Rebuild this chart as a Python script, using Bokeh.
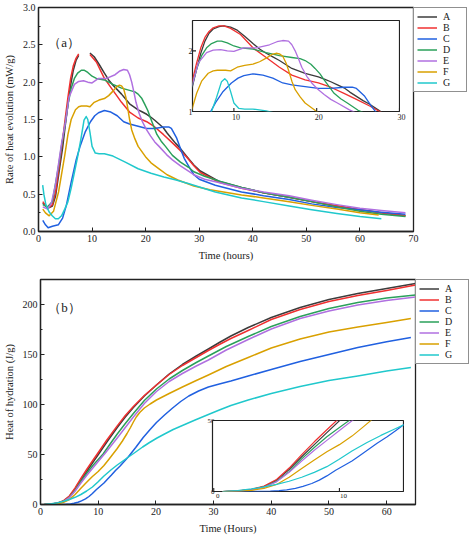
import numpy as np
from bokeh.plotting import figure
from bokeh.models import Legend, LegendItem, Label, FixedTicker, Range1d, NumeralTickFormatter, GridBox, Column
from bokeh.layouts import column
from bokeh.core.properties import value
from bokeh.embed import file_html
from bokeh.resources import INLINE

names = ["A", "B", "C", "D", "E", "F", "G"]
colors = ["#3c3c3c", "#f03030", "#2060e0", "#2aa05a", "#b070e0", "#d9a000", "#20c8cc"]

# ---- (a) rate of heat evolution (mW/g) vs time (hours)
rate_t_A = [0.8, 1.7, 2.6, 3.2, 4.0, 4.5, 5.0, 5.5, 6.0, 6.5, 7.0, 7.5, 8.2, 8.8, 9.6, 10.4, 11.3, 12.3, 13.1, 13.9,
            14.7, 15.5, 16.3, 17.0, 17.8, 18.6, 19.4, 20.2, 21.0, 21.7, 22.5, 23.3, 24.0, 24.8, 25.6, 26.4, 27.6, 29.0,
            30.2, 33.7, 37.9, 42.0, 46.8, 51.0, 55.7, 60.0, 64.0, 68.5]
rate_v_A = [0.38, 0.31, 0.34, 0.48, 0.88, 1.12, 1.42, 1.70, 1.96, 2.16, 2.29, 2.36, 2.40, 2.41, 2.39, 2.34, 2.24, 2.12,
            2.03, 1.96, 1.90, 1.84, 1.77, 1.71, 1.67, 1.63, 1.60, 1.57, 1.53, 1.49, 1.44, 1.39, 1.32, 1.25, 1.18, 1.12,
            1.01, 0.89, 0.81, 0.67, 0.59, 0.52, 0.46, 0.40, 0.34, 0.29, 0.25, 0.21]
rate_t_B = [0.8, 1.7, 2.6, 3.2, 4.0, 4.5, 5.0, 5.5, 6.0, 6.5, 7.0, 7.5, 8.2, 8.8, 9.6, 10.8, 12.3, 13.9, 15.5, 17.0,
            18.6, 20.2, 21.7, 23.3, 24.8, 26.4, 27.6, 29.0, 30.2, 33.7, 37.9, 42.0, 46.8, 51.0, 55.7, 60.0, 64.0, 68.5]
rate_v_B = [0.40, 0.31, 0.36, 0.53, 0.95, 1.22, 1.52, 1.80, 2.05, 2.22, 2.32, 2.38, 2.41, 2.41, 2.37, 2.27, 2.05, 1.89,
            1.73, 1.60, 1.52, 1.47, 1.40, 1.30, 1.20, 1.09, 1.00, 0.88, 0.79, 0.66, 0.58, 0.52, 0.46, 0.40, 0.34, 0.29,
            0.25, 0.21]
rate_t_C = [0.8, 1.3, 1.8, 2.6, 3.7, 4.5, 5.2, 6.1, 7.0, 7.8, 8.7, 9.7, 10.5, 11.2, 12.3, 13.5, 14.7, 15.9, 17.0, 18.6,
            20.2, 21.7, 23.3, 24.3, 24.8, 25.8, 26.6, 27.2, 28.0, 29.0, 30.0, 33.0, 37.9, 42.0, 46.8, 51.0, 55.7, 60.0,
            63.5, 68.5]
rate_v_C = [0.15, 0.09, 0.05, 0.07, 0.09, 0.18, 0.35, 0.66, 0.95, 1.15, 1.33, 1.47, 1.55, 1.59, 1.62, 1.60, 1.55, 1.47,
            1.44, 1.41, 1.38, 1.38, 1.40, 1.40, 1.38, 1.25, 1.09, 0.98, 0.88, 0.76, 0.70, 0.62, 0.53, 0.48, 0.43, 0.37,
            0.32, 0.29, 0.26, 0.23]
rate_t_D = [0.8, 1.7, 2.6, 3.75, 4.3, 5.0, 5.5, 6.1, 6.7, 7.3, 8.0, 8.5, 9.2, 10.0, 10.8, 12.3, 13.9, 15.5, 17.0, 18.0,
            18.6, 19.3, 19.8, 20.4, 20.9, 21.5, 22.1, 22.9, 23.7, 25.0, 26.5, 28.0, 29.0, 31.0, 34.0, 37.9, 42.0, 46.8,
            51.0, 55.7, 60.0, 64.0, 68.5]
rate_v_D = [0.36, 0.33, 0.40, 0.88, 1.15, 1.45, 1.70, 1.92, 2.05, 2.12, 2.16, 2.16, 2.13, 2.08, 2.05, 2.03, 1.97, 1.92,
            1.89, 1.87, 1.84, 1.78, 1.71, 1.62, 1.52, 1.41, 1.30, 1.21, 1.14, 1.02, 0.93, 0.86, 0.80, 0.74, 0.67, 0.59,
            0.52, 0.46, 0.40, 0.33, 0.27, 0.23, 0.20]
rate_t_E = [0.8, 1.7, 2.4, 3.15, 4.35, 5.0, 5.7, 6.7, 7.5, 8.4, 9.2, 10.0, 10.6, 11.2, 12.7, 14.3, 15.2, 15.9, 16.6,
            17.0, 17.4, 17.8, 18.2, 18.8, 19.4, 20.1, 20.9, 21.7, 22.5, 23.9, 25.0, 26.5, 28.0, 29.0, 31.0, 34.0, 37.9,
            42.0, 46.8, 51.0, 55.7, 60.0, 64.0, 68.5]
rate_v_E = [0.33, 0.30, 0.38, 0.62, 1.20, 1.45, 1.80, 1.97, 2.01, 2.02, 2.00, 1.99, 2.02, 2.05, 2.05, 2.10, 2.15, 2.17,
            2.16, 2.10, 2.00, 1.87, 1.73, 1.58, 1.47, 1.37, 1.28, 1.20, 1.14, 1.03, 0.96, 0.88, 0.81, 0.76, 0.70, 0.65,
            0.58, 0.53, 0.48, 0.42, 0.36, 0.31, 0.28, 0.25]
rate_t_F = [0.8, 1.3, 2.0, 2.8, 3.75, 4.9, 5.5, 6.1, 6.9, 7.5, 8.0, 9.0, 9.6, 10.4, 11.3, 12.3, 13.1, 13.9, 14.6, 15.1,
            15.5, 15.9, 16.3, 16.6, 17.0, 17.4, 18.0, 18.6, 19.5, 20.1, 21.0, 22.5, 24.0, 26.0, 29.0, 32.0, 37.9, 42.0,
            46.8, 51.0, 55.7, 60.0, 63.5]
rate_v_F = [0.30, 0.25, 0.21, 0.27, 0.53, 1.02, 1.30, 1.50, 1.63, 1.67, 1.68, 1.68, 1.67, 1.73, 1.76, 1.78, 1.82, 1.88,
            1.94, 1.96, 1.95, 1.91, 1.80, 1.68, 1.50, 1.36, 1.24, 1.14, 1.05, 0.99, 0.92, 0.84, 0.76, 0.69, 0.61, 0.56,
            0.49, 0.45, 0.40, 0.35, 0.30, 0.25, 0.22]
rate_t_G = [0.78, 1.0, 1.37, 2.0, 2.56, 3.15, 3.7, 4.3, 4.9, 5.5, 6.1, 6.7, 7.3, 7.9, 8.5, 8.9, 9.2, 9.6, 10.0, 10.6,
            11.3, 12.3, 13.9, 16.2, 18.6, 21.0, 23.4, 25.7, 28.1, 33.0, 37.9, 42.0, 46.8, 51.0, 55.7, 60.0, 64.0]
rate_v_G = [0.62, 0.50, 0.36, 0.26, 0.21, 0.17, 0.17, 0.21, 0.30, 0.40, 0.58, 0.79, 1.00, 1.23, 1.49, 1.54, 1.50, 1.33,
            1.14, 1.05, 1.04, 1.04, 1.01, 0.93, 0.84, 0.78, 0.73, 0.69, 0.64, 0.53, 0.45, 0.40, 0.34, 0.29, 0.24, 0.20,
            0.17]
# A and B are not recorded in the main plot between these times (gap in the main curves)
gap_start, gap_end = 7.6, 8.85

# ---- (b) heat of hydration (J/g) vs time (hours)
heat_t_A = [0.7, 2.0, 3.0, 4.0, 5.0, 6.0, 7.0, 8.0, 9.0, 10.2, 11.5, 13.3, 14.7, 16.1, 18.0, 20.1, 22.3, 24.6, 27.0,
            29.1, 31.0, 33.0, 36.0, 40.0, 45.0, 50.0, 55.0, 60.0, 65.0]
heat_v_A = [0, 0.5, 1.4, 3.5, 8.0, 15.5, 24.5, 33.0, 41.5, 51.5, 62.5, 77.0, 87.5, 97.0, 108.5, 119.5, 130.5, 140.0,
            148.5, 155.5, 162.0, 168.5, 177.0, 187.0, 197.0, 205.0, 211.0, 216.0, 221.0]
heat_t_B = [0.7, 1.9, 3.0, 4.0, 5.0, 6.0, 7.0, 8.0, 9.0, 9.9, 11.5, 13.3, 14.7, 16.1, 18.0, 20.1, 22.3, 24.6, 27.0,
            29.1, 31.0, 33.0, 36.0, 40.0, 45.0, 50.0, 55.0, 60.0, 65.0]
heat_v_B = [0, 0.5, 1.5, 3.8, 8.5, 16.5, 26.0, 35.0, 43.5, 51.0, 64.5, 78.6, 89.0, 98.0, 109.0, 119.5, 130.0, 139.0,
            147.0, 154.0, 160.0, 166.0, 174.0, 185.0, 195.0, 203.0, 209.0, 214.0, 219.5]
heat_t_C = [0.7, 3.0, 4.5, 5.2, 5.8, 6.5, 7.1, 7.8, 8.4, 9.0, 9.7, 10.3, 11.0, 11.6, 12.3, 13.0, 13.8, 14.5, 15.2,
            16.5, 17.8, 19.0, 20.1, 21.5, 22.9, 24.3, 25.7, 27.4, 29.1, 31.0, 33.0, 36.0, 40.0, 45.0, 50.0, 55.0, 60.0,
            64.2]
heat_v_C = [0, 0.1, 0.3, 0.6, 1.2, 2.2, 3.6, 5.6, 8.0, 11.0, 15.0, 18.0, 21.5, 25.2, 29.5, 34.0, 38.5, 43.0, 47.5,
            57.0, 67.0, 75.0, 82.0, 89.5, 96.5, 103.0, 108.5, 113.5, 117.5, 120.5, 123.5, 128.5, 135.0, 143.0, 150.0,
            157.0, 162.8, 167.0]
heat_t_D = [0.7, 2.0, 3.0, 4.0, 5.0, 6.0, 7.0, 8.0, 9.0, 10.0, 10.85, 12.0, 13.3, 14.7, 16.1, 18.0, 20.1, 22.3, 24.6,
            27.0, 29.1, 32.2, 36.0, 40.0, 45.0, 50.0, 55.0, 60.0, 65.0]
heat_v_D = [0, 0.4, 1.2, 3.2, 7.2, 14.0, 23.0, 31.0, 38.5, 45.0, 50.5, 60.0, 70.5, 81.0, 91.0, 104.0, 115.5, 125.5,
            134.0, 142.0, 148.5, 158.0, 168.0, 178.0, 188.0, 196.0, 202.0, 206.5, 209.5]
heat_t_E = [0.7, 2.0, 3.0, 4.0, 5.0, 6.0, 7.0, 8.0, 9.0, 10.0, 11.1, 12.2, 13.3, 14.7, 16.1, 18.0, 20.1, 22.3, 24.6,
            27.0, 29.1, 32.2, 36.0, 40.0, 45.0, 50.0, 55.0, 60.0, 65.0]
heat_v_E = [0, 0.4, 1.1, 3.0, 6.8, 13.5, 21.5, 29.0, 36.0, 43.0, 50.5, 58.5, 66.5, 77.0, 87.5, 101.0, 113.0, 123.0,
            131.0, 138.5, 144.5, 154.5, 165.0, 175.5, 186.0, 193.6, 199.5, 204.0, 207.5]
heat_t_F = [0.7, 2.0, 3.0, 4.0, 5.0, 6.0, 7.0, 8.0, 9.0, 10.0, 11.0, 11.9, 13.3, 14.2, 15.0, 15.6, 16.1, 16.6, 17.2,
            18.0, 19.0, 20.1, 22.3, 24.6, 27.0, 29.1, 32.2, 36.0, 40.0, 45.0, 50.0, 55.0, 60.0, 64.2]
heat_v_F = [0, 0.3, 0.8, 2.2, 5.0, 10.0, 16.2, 22.2, 28.0, 33.0, 39.0, 45.5, 56.0, 63.5, 71.0, 77.0, 82.5, 87.5, 92.0,
            96.5, 100.5, 104.5, 111.0, 117.5, 124.0, 129.5, 138.0, 147.0, 156.5, 165.5, 172.5, 177.5, 182.0, 186.0]
heat_t_G = [0.7, 1.9, 3.0, 4.0, 5.0, 6.0, 7.0, 8.0, 9.0, 9.95, 11.0, 12.2, 13.3, 14.4, 15.5, 16.5, 17.7, 18.9, 20.2,
            21.5, 23.0, 24.6, 26.8, 29.1, 31.0, 33.0, 36.0, 40.0, 45.0, 50.0, 55.0, 60.0, 64.2]
heat_v_G = [0, 0.7, 1.8, 3.2, 5.0, 7.2, 10.0, 13.5, 17.5, 22.5, 28.5, 34.5, 39.5, 44.0, 48.5, 52.5, 57.5, 62.0, 66.5,
            70.5, 75.0, 79.0, 84.5, 90.0, 94.5, 99.0, 104.5, 111.0, 118.0, 124.0, 128.5, 133.5, 137.0]

# axis ticks
rate_xticks = [0, 10, 20, 30, 40, 50, 60, 70]
rate_yticks = [0, 0.5, 1.0, 1.5, 2.0, 2.5, 3.0]
heat_xticks = [0, 10, 20, 30, 40, 50, 60]
heat_yticks = [0, 50, 100, 150, 200]
inset_a_xticks = [10, 20, 30]
inset_a_yticks = [1, 2]
inset_b_xticks = [0, 10]
inset_b_yticks = [0, 50]

rate_t = [rate_t_A, rate_t_B, rate_t_C, rate_t_D, rate_t_E, rate_t_F, rate_t_G]
rate_v = [rate_v_A, rate_v_B, rate_v_C, rate_v_D, rate_v_E, rate_v_F, rate_v_G]
heat_t = [heat_t_A, heat_t_B, heat_t_C, heat_t_D, heat_t_E, heat_t_F, heat_t_G]
heat_v = [heat_v_A, heat_v_B, heat_v_C, heat_v_D, heat_v_E, heat_v_F, heat_v_G]

FONT = "Liberation Serif"
INK = "#222222"

# layout constants (pixels, relative to each panel's top-left corner)
FR_L, FR_W = 36, 375            # main frame left / width (both panels)
A_TOP, A_H, A_BOT = 7, 224, 31  # panel (a) frame top / height / bottom border
B_TOP, B_H, B_BOT = 16, 225, 31
IA = dict(left=192, top=20, w=207, h=91)   # inset (a) frame
IB = dict(left=212, top=157, w=191, h=71)  # inset (b) frame


def style_axes(p, tick_size, label_size):
    p.xgrid.visible = False
    p.ygrid.visible = False
    p.outline_line_color = INK
    p.outline_line_width = 1.3
    p.background_fill_color = "white"
    for ax in list(p.xaxis) + list(p.yaxis):
        ax.axis_line_color = INK
        ax.axis_line_width = 1.3
        ax.major_tick_in = 4
        ax.major_tick_out = 0
        ax.major_tick_line_color = INK
        ax.minor_tick_in = 2
        ax.minor_tick_out = 0
        ax.minor_tick_line_color = INK
        ax.major_label_text_font = FONT
        ax.major_label_text_font_size = tick_size
        ax.major_label_text_color = INK
        ax.axis_label_text_font = FONT
        ax.axis_label_text_font_size = label_size
        ax.axis_label_text_font_style = "normal"
        ax.axis_label_text_color = INK
        ax.major_label_standoff = 3
    p.xaxis.minor_tick_line_color = None


def add_legend(p, renderers):
    items = [LegendItem(label=n, renderers=[r]) for n, r in zip(names, renderers)]
    leg = Legend(items=items, location="top_left", orientation="vertical", margin=0, padding=3,
                 spacing=0, glyph_width=20, glyph_height=11, label_height=11, label_standoff=6,
                 label_text_font=FONT, label_text_font_size="10px", label_text_color=INK,
                 border_line_color=INK, border_line_width=1.2, background_fill_color="white",
                 background_fill_alpha=1.0)
    p.add_layout(leg, "right")


def inset_ranges(frame_top, frame_h, box, xr, yr):
    sx = box["w"] / (xr[1] - xr[0])
    x0 = xr[0] - (box["left"] - FR_L) / sx
    sy = box["h"] / (yr[1] - yr[0])
    y0 = yr[0] - ((frame_top + frame_h) - (box["top"] + box["h"])) / sy
    return Range1d(x0, x0 + FR_W / sx), Range1d(y0, y0 + frame_h / sy)


def make_inset(ts, vs, xr, yr, box, xticks, yticks, lw):
    ip = figure(frame_width=box["w"], frame_height=box["h"], x_range=Range1d(*xr), y_range=Range1d(*yr),
                min_border_left=1, min_border_right=1, min_border_top=1, min_border_bottom=1,
                x_axis_location=None, y_axis_location=None, output_backend="svg", toolbar_location=None)
    ip.xgrid.visible = False
    ip.ygrid.visible = False
    ip.outline_line_color = INK
    ip.outline_line_width = 1.2
    ip.background_fill_color = "white"
    ip.border_fill_alpha = 0.0
    for t, v, c in zip(ts, vs, colors):
        ip.line(t, v, line_color=c, line_width=lw, line_join="round")
    ip.scatter(x=xticks, y=[yr[0]] * len(xticks), marker="dash", angle=np.pi / 2, size=7,
               line_color=INK, line_width=1.1)
    ip.scatter(x=[xr[0]] * len(yticks), y=yticks, marker="dash", size=7, line_color=INK, line_width=1.1)
    # wrap in its own container so that its frame is not aligned with the main plot's frame
    holder = Column(children=[ip], margin=(box["top"] - 1, 0, 0, box["left"] - 1), align="start")
    return holder


def inset_labels(p, xr, yr, xticks, yticks, size):
    p.text(x=xticks, y=[yr[0]] * len(xticks), text=[str(v) for v in xticks], x_range_name="ix",
           y_range_name="iy", text_align="center", text_baseline="top", y_offset=2,
           text_font=value(FONT), text_font_size=value(size), text_color=INK)
    p.text(x=[xr[0]] * len(yticks), y=yticks, text=[str(v) for v in yticks], x_range_name="ix",
           y_range_name="iy", text_align="right", text_baseline="middle", x_offset=-2,
           text_font=value(FONT), text_font_size=value(size), text_color=INK)


# ---------------- panel (a)
pa = figure(frame_width=FR_W, frame_height=A_H, x_range=Range1d(0, 70), y_range=Range1d(0, 3),
            min_border_left=FR_L, min_border_right=0, min_border_top=A_TOP, min_border_bottom=A_BOT,
            output_backend="svg", toolbar_location=None)
pa.xaxis.ticker = FixedTicker(ticks=rate_xticks)
pa.yaxis.ticker = FixedTicker(ticks=rate_yticks, minor_ticks=[0.25, 0.75, 1.25, 1.75, 2.25, 2.75])
pa.yaxis.formatter = NumeralTickFormatter(format="0.0")
pa.xaxis.axis_label = "Time (hours)"
pa.yaxis.axis_label = "Rate of heat evolution (mW/g)"
style_axes(pa, "10px", "10.5px")

rend_a = []
for i, (t, v, c) in enumerate(zip(rate_t, rate_v, colors)):
    t_arr = np.array(t, dtype=float)
    v_arr = np.array(v, dtype=float)
    if names[i] in ("A", "B"):
        v_arr = np.where((t_arr > gap_start) & (t_arr < gap_end), np.nan, v_arr)
    rend_a.append(pa.line(t_arr, v_arr, line_color=c, line_width=1.5, line_join="round"))
add_legend(pa, rend_a)
pa.add_layout(Label(x=1.8, y=2.53, text="（a）", text_font=FONT, text_font_size="13px",
                    text_baseline="middle", text_color=INK))

ia_xr, ia_yr = (5, 30), (1, 2.5)
rx, ry = inset_ranges(A_TOP, A_H, IA, ia_xr, ia_yr)
pa.extra_x_ranges = {"ix": rx}
pa.extra_y_ranges = {"iy": ry}
inset_labels(pa, ia_xr, ia_yr, inset_a_xticks, inset_a_yticks, "8px")
ia = make_inset(rate_t, rate_v, ia_xr, ia_yr, IA, inset_a_xticks, inset_a_yticks, 1.3)
pa.align = "start"
grid_a = GridBox(children=[(pa, 0, 0), (ia, 0, 0)])

# ---------------- panel (b)
pb = figure(frame_width=FR_W, frame_height=B_H, x_range=Range1d(0, 65), y_range=Range1d(0, 225),
            min_border_left=FR_L, min_border_right=0, min_border_top=B_TOP, min_border_bottom=B_BOT,
            output_backend="svg", toolbar_location=None)
pb.xaxis.ticker = FixedTicker(ticks=heat_xticks)
pb.yaxis.ticker = FixedTicker(ticks=heat_yticks, minor_ticks=[25, 75, 125, 175, 225])
pb.xaxis.axis_label = "Time (Hours)"
pb.yaxis.axis_label = "Heat of hydration (J/g)"
style_axes(pb, "10px", "10.5px")
rend_b = []
for t, v, c in zip(heat_t, heat_v, colors):
    rend_b.append(pb.line(t, v, line_color=c, line_width=1.5, line_join="round"))
add_legend(pb, rend_b)
pb.add_layout(Label(x=1.35, y=197, text="（b）", text_font=FONT, text_font_size="13px",
                    text_baseline="middle", text_color=INK))

ib_xr, ib_yr = (-0.1, 15.1), (0, 50)
rx, ry = inset_ranges(B_TOP, B_H, IB, ib_xr, ib_yr)
pb.extra_x_ranges = {"ix": rx}
pb.extra_y_ranges = {"iy": ry}
inset_labels(pb, ib_xr, ib_yr, inset_b_xticks, inset_b_yticks, "7px")
ib = make_inset(heat_t, heat_v, ib_xr, ib_yr, IB, inset_b_xticks, inset_b_yticks, 1.2)
pb.align = "start"
grid_b = GridBox(children=[(pb, 0, 0), (ib, 0, 0)])

root = column(grid_a, grid_b, spacing=0)

open("out.html", "w").write(file_html(root, INLINE))
